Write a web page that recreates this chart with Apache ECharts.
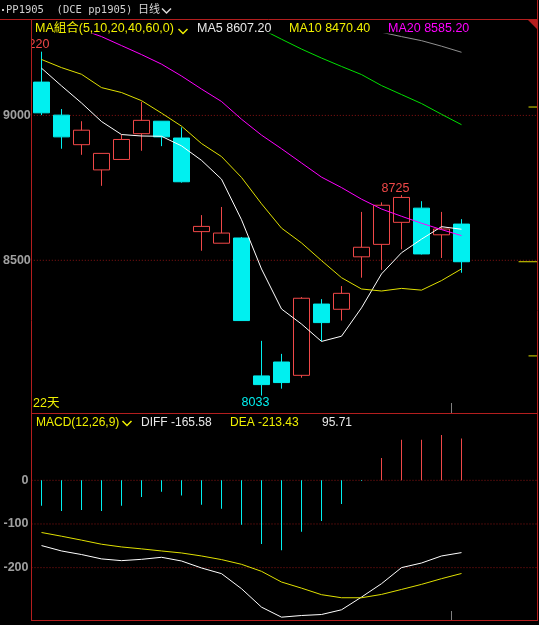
<!DOCTYPE html>
<html>
<head>
<meta charset="utf-8">
<title>PP1905 日线</title>
<script src="https://cdn.jsdelivr.net/npm/echarts@6/dist/echarts.min.js"></script>
<style>
html, body { margin: 0; padding: 0; background: #000; overflow: hidden; }
#kChart { width: 539px; height: 625px; }
</style>
</head>
<body>
<div id="kChart"></div>
<script>
// 日K数据
var dayNo  = ['1','2','3','4','5','6','7','8','9','10','11','12','13','14','15','16','17','18','19','20','21','22'];
var padNo  = ['23','24','25']; // 右侧空位
var opens  = [9115, 9001, 8899, 8812, 8848, 8937, 8980, 8922, 8599, 8559, 8577, 8101, 8149, 8103, 8349, 8331, 8512, 8555, 8631, 8680, 8588, 8625];
var closes = [9009, 8926, 8949, 8869, 8917, 8983, 8926, 8771, 8617, 8594, 8292, 8071, 8078, 8369, 8285, 8386, 8545, 8690, 8717, 8522, 8608, 8495];
var lows   = [9001, 8885, 8864, 8757, 8848, 8878, 8894, 8768, 8533, 8559, 8292, 8033, 8057, 8095, 8221, 8292, 8440, 8467, 8538, 8520, 8508, 8457];
var highs  = [9220, 9022, 8980, 8869, 8933, 9047, 8980, 8959, 8656, 8684, 8580, 8222, 8177, 8373, 8366, 8411, 8667, 8700, 8725, 8704, 8667, 8642];

// 均线
var ma5  = [9163, 9102, 9043, 8979, 8934, 8929, 8928, 8895, 8845, 8780, 8640, 8470, 8332, 8280, 8220, 8238, 8336, 8453, 8526, 8573, 8616, 8607.2];
var ma10 = [9193, 9165, 9142, 9096, 9079, 9051, 9008, 8963, 8903, 8858, 8786, 8695, 8611, 8560, 8499, 8440, 8401, 8394, 8403, 8397, 8430, 8470.4];
var ma20 = [9345, 9320, 9297, 9272, 9241, 9210, 9177, 9136, 9091, 9048, 8987, 8932, 8885, 8836, 8787, 8751, 8711, 8677, 8652, 8628, 8606, 8585.2];
var ma40 = [null, null, null, null, null, null, null, null, null, null, null, 9298, 9263, 9229, 9198, 9169, 9141, 9103, 9072, 9041, 9004, 8968];
var ma60 = [null, null, null, null, null, null, null, null, null, null, null, null, null, null, null, null, null, 9287, 9272, 9258, 9239, 9218];

// MACD
var macdDiff = [-149.5, -161.8, -170, -180, -184, -181, -176.3, -184.8, -200.8, -213.8, -248.3, -290.5, -313.5, -309.7, -307.4, -296.6, -267.5, -236.8, -200, -189.4, -173.3, -165.58];
var macdDea  = [-119.5, -128, -137, -146.4, -152.6, -157, -161.8, -166.4, -173.3, -181.6, -192.4, -208.5, -233, -247, -262, -269, -269, -261.4, -250, -238.4, -225.3, -213.43];
var macdBar  = [-58, -70, -68, -70, -58, -38, -26, -35, -56, -65, -102, -146, -160, -118, -93, -54, -1.5, 51, 93, 93, 104, 95.71];

// 最高/最低价标注
var markIdx = [0, 18, 11];
var markVal = [9220, 8725, 8033];

// 刻度
var priceTicks = [9000, 8500];
var macdTicks  = [0, -100, -200];
var rightMarks = [9029, 8495, 8170];

var upColor = '#f04848';
var downColor = '#00f0f0';
var yellow = '#f0f000';
var frameColor = '#b41e1e';
var gridDot = '#8c1414';
var font = "'Liberation Sans', 'Noto Sans CJK SC', sans-serif";

var kChart = echarts.init(document.getElementById('kChart'));

var candleData = [];
for (var i = 0; i < dayNo.length; i++) {
	candleData.push([opens[i], closes[i], lows[i], highs[i]]);
}

var markData = [];
for (var i = 0; i < markIdx.length; i++) {
	var isLow = markVal[i] == lows[markIdx[i]];
	markData.push({
		coord : [markIdx[i], markVal[i]],
		value : markVal[i],
		label : {
			position : isLow ? 'bottom' : 'top',
			color : isLow ? downColor : upColor
		}
	});
}

function maLine(values, color) {
	return {
		type : 'line', xAxisIndex : 0, yAxisIndex : 0,
		data : values, symbol : 'none', silent : true, z : 5,
		lineStyle : { color : color, width : 1 }
	};
}

// 虚线网格（画满整个面板宽度）
function guideLine(value, axisIdx) {
	return {
		type : 'line', xAxisIndex : axisIdx, yAxisIndex : axisIdx,
		data : [[0, value], [1, value]], symbol : 'none', silent : true, z : 1,
		lineStyle : { color : gridDot, width : 1, type : [1, 2] }
	};
}

var series = [];
series.push({
	type : 'candlestick', xAxisIndex : 0, yAxisIndex : 0,
	data : candleData, barWidth : 17, z : 3,
	itemStyle : {
		color : '#000000', color0 : downColor,
		borderColor : upColor, borderColor0 : downColor, borderWidth : 1
	},
	markPoint : {
		symbol : 'rect', symbolSize : 1,
		itemStyle : { color : 'rgba(0,0,0,0)' },
		label : {
			show : true, distance : 0, offset : [-6, 0],
			fontSize : 12.5, fontFamily : font, formatter : '{c}'
		},
		data : markData
	}
});
series.push(maLine(ma5, '#ffffff'));
series.push(maLine(ma10, '#e0e000'));
series.push(maLine(ma20, '#ff00ff'));
series.push(maLine(ma40, '#00e000'));
series.push(maLine(ma60, '#909090'));
for (var i = 0; i < priceTicks.length; i++) {
	series.push(guideLine(priceTicks[i], 1));
}
// 右侧黄色价位标记
for (var i = 0; i < rightMarks.length; i++) {
	var len = (i == 1) ? 19 / 506 : 9 / 506;
	series.push({
		type : 'line', xAxisIndex : 1, yAxisIndex : 1,
		data : [[1 - len, rightMarks[i]], [1, rightMarks[i]]], symbol : 'none', silent : true,
		lineStyle : { color : '#e0e000', width : 1 }
	});
}

// MACD
series.push({
	type : 'bar', xAxisIndex : 2, yAxisIndex : 2,
	data : macdBar, barWidth : 1, silent : true,
	itemStyle : {
		color : function(p) { return p.value >= 0 ? upColor : downColor; }
	}
});
series.push({
	type : 'line', xAxisIndex : 2, yAxisIndex : 2, data : macdDiff,
	symbol : 'none', silent : true, z : 5, lineStyle : { color : '#ffffff', width : 1 }
});
series.push({
	type : 'line', xAxisIndex : 2, yAxisIndex : 2, data : macdDea,
	symbol : 'none', silent : true, z : 5, lineStyle : { color : '#e0e000', width : 1 }
});
for (var i = 0; i < macdTicks.length; i++) {
	series.push(guideLine(macdTicks[i], 3));
}

function tickLabel(values) {
	return {
		customValues : values,
		color : '#a0a0a0', fontWeight : 'bold', fontSize : 12.5, fontFamily : font, margin : 3,
		formatter : function(v) { return String(v); }
	};
}

function txt(x, y, text, color, size, family) {
	return {
		type : 'text', x : x, y : y, z : 100,
		style : {
			text : text, fill : color, verticalAlign : 'middle',
			font : size + 'px ' + (family || font)
		}
	};
}
function chevron(x, y, color) {
	return {
		type : 'polyline', z : 100,
		shape : { points : [[x, y], [x + 4.5, y + 4.5], [x + 9, y]] },
		style : { stroke : color, lineWidth : 1.5, fill : null }
	};
}
function seg(x1, y1, x2, y2, color) {
	return {
		type : 'line', z : 100,
		shape : { x1 : x1, y1 : y1, x2 : x2, y2 : y2 },
		style : { stroke : color, lineWidth : 1 }
	};
}

var kOption = {
	backgroundColor : '#000000',
	animation : false,
	grid : [
		{ left : 31.5, top : 34, width : 500, height : 379 },
		{ left : 31.5, top : 34, width : 506, height : 379 },
		{ left : 31.5, top : 414, width : 500, height : 206 },
		{ left : 31.5, top : 414, width : 506, height : 206 }
	],
	xAxis : [
		{ type : 'category', gridIndex : 0, data : dayNo.concat(padNo), show : false },
		{ type : 'value', gridIndex : 1, min : 0, max : 1, show : false },
		{ type : 'category', gridIndex : 2, data : dayNo.concat(padNo), show : false },
		{ type : 'value', gridIndex : 3, min : 0, max : 1, show : false }
	],
	yAxis : [
		{ type : 'value', gridIndex : 0, min : 7973, max : 9281, show : false },
		{
			type : 'value', gridIndex : 1, min : 7973, max : 9281,
			axisLine : { show : false }, axisTick : { show : false }, splitLine : { show : false },
			axisLabel : tickLabel(priceTicks)
		},
		{ type : 'value', gridIndex : 2, min : -320, max : 152, show : false },
		{
			type : 'value', gridIndex : 3, min : -320, max : 152,
			axisLine : { show : false }, axisTick : { show : false }, splitLine : { show : false },
			axisLabel : tickLabel(macdTicks)
		}
	],
	graphic : {
		elements : [
			// 遮住左侧被裁掉的"9"
			{ type : 'rect', z : 90, shape : { x : 0, y : 36, width : 31, height : 17 }, style : { fill : '#000000' } },
			// 边框
			seg(0, 19.5, 537.5, 19.5, frameColor),
			seg(31.5, 19.5, 31.5, 621, frameColor),
			seg(537.5, 0, 537.5, 621, frameColor),
			seg(31.5, 413.5, 537.5, 413.5, frameColor),
			seg(31.5, 620.5, 537.5, 620.5, frameColor),
			{ type : 'polygon', z : 100, shape : { points : [[528, 20], [537, 20], [537, 29]] }, style : { fill : frameColor } },
			seg(451.5, 403, 451.5, 413, '#808080'),
			seg(451.5, 611, 451.5, 620, '#808080'),
			// 标题
			{ type : 'rect', z : 100, shape : { x : 2, y : 9, width : 2, height : 2 }, style : { fill : '#c8c8c8' } },
			txt(6, 10.5, 'PP1905  (DCE pp1905)', '#d0d0d0', 10.5, "'DejaVu Sans Mono', monospace"),
			txt(138, 10, '日线', '#d8d8d8', 11),
			chevron(162, 8.5, '#d8d8d8'),
			// 均线图例
			txt(35, 28.5, 'MA組合(5,10,20,40,60,0)', yellow, 12.5),
			chevron(178.5, 29, yellow),
			txt(197, 28.5, 'MA5 8607.20', '#e8e8e8', 12.5),
			txt(289, 28.5, 'MA10 8470.40', yellow, 12.5),
			txt(388, 28.5, 'MA20 8585.20', '#ff00ff', 12.5),
			txt(33, 403.5, '22天', yellow, 12.5),
			// MACD 图例
			txt(36, 423, 'MACD(12,26,9)', yellow, 12),
			chevron(122.5, 421, yellow),
			txt(141, 423, 'DIFF -165.58', '#e8e8e8', 12),
			txt(230, 423, 'DEA -213.43', yellow, 12),
			txt(322, 423, '95.71', '#e8e8e8', 12)
		]
	},
	series : series
};

kChart.setOption(kOption);
</script>
</body>
</html>
